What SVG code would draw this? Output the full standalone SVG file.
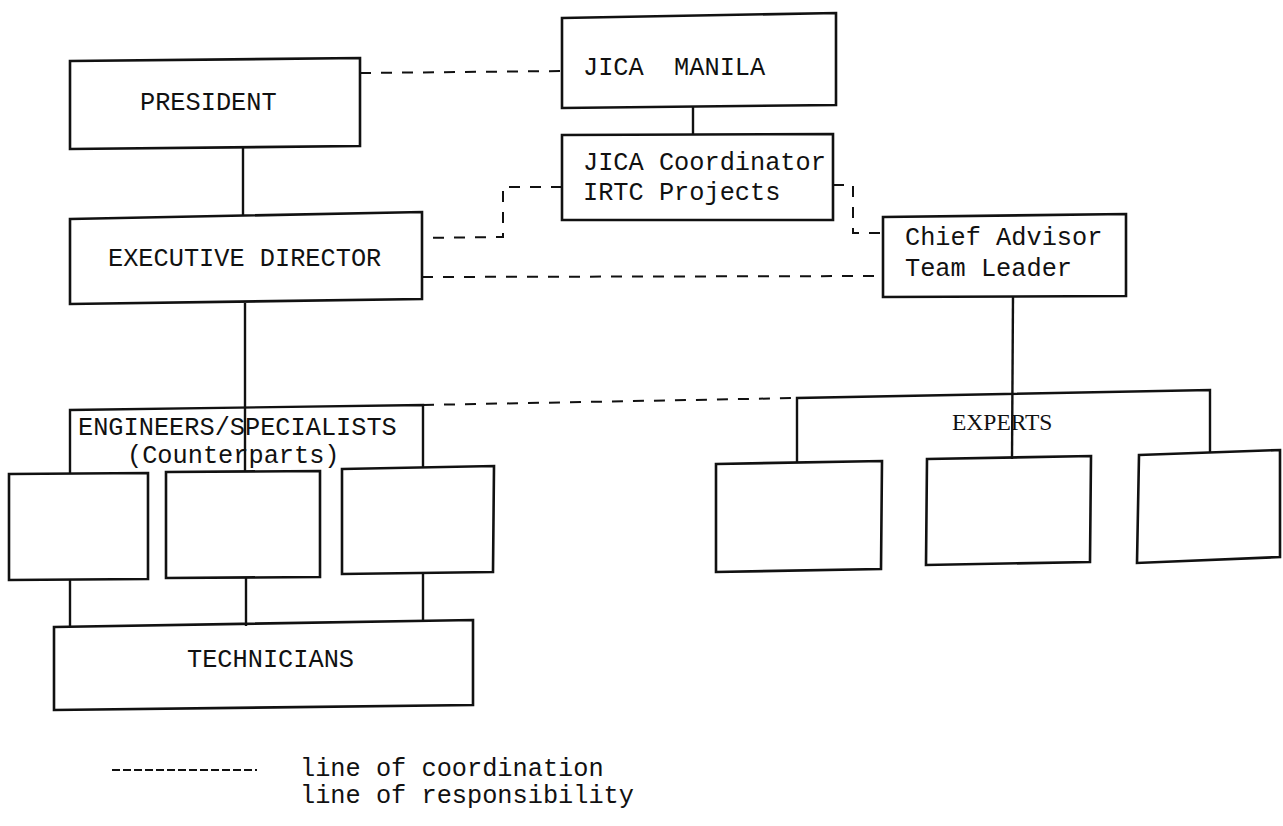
<svg xmlns="http://www.w3.org/2000/svg" width="1283" height="826" viewBox="0 0 1283 826">
<style>
.box{fill:none;stroke:#111;stroke-width:2.6;stroke-linejoin:miter}
.ln{fill:none;stroke:#111;stroke-width:2.4}
.dash{fill:none;stroke:#111;stroke-width:2;stroke-dasharray:11 10}
.t{font-family:"Liberation Mono","Courier New",monospace;font-size:25.3px;fill:#111}
.ts{font-family:"Liberation Serif","Times New Roman",serif;font-size:23.5px;fill:#111}
</style>
<rect width="1283" height="826" fill="#fff"/>
<g id="connectors">
<path class="dash" d="M360,73 L562,71"/>
<path class="ln" d="M693,107 L693,134"/>
<path class="ln" d="M243,148 L243,216"/>
<path class="dash" d="M562,187 L503,187 L503,237 L422,238"/>
<path class="dash" d="M833,185 L853,185 L853,233 L883,233"/>
<path class="dash" d="M422,277 L883,276"/>
<path class="ln" d="M1013,296 L1012,459"/>
<path class="ln" d="M797,462 L797,398 L1210,390 L1210,453"/>
<path class="dash" d="M423,405 L797,398"/>
<path class="ln" d="M245,303 L245,471"/>
<path class="ln" d="M70,473 L70,410 L423,405 L423,467"/>
<path class="ln" d="M70,580 L70,627"/>
<path class="ln" d="M246,578 L246,626"/>
<path class="ln" d="M423,573 L423,622"/>
</g>
<g id="president">
<path class="box" d="M70,61 L360,58 L360,146 L70,149 Z"/>
<text class="t" x="140" y="110">PRESIDENT</text>
</g>
<g id="jica_manila">
<path class="box" d="M562,18 L836,13 L836,105 L562,108 Z"/>
<text class="t" x="583" y="75" xml:space="preserve">JICA  MANILA</text>
</g>
<g id="jica_coordinator">
<path class="box" d="M562,135 L833,134 L833,220 L562,220 Z"/>
<text class="t" x="583" y="170">JICA Coordinator</text>
<text class="t" x="583" y="200">IRTC Projects</text>
</g>
<g id="executive_director">
<path class="box" d="M70,219 L422,212 L422,299 L70,304 Z"/>
<text class="t" x="108" y="266">EXECUTIVE DIRECTOR</text>
</g>
<g id="chief_advisor">
<path class="box" d="M883,217 L1126,214 L1126,296 L883,297 Z"/>
<text class="t" x="905" y="245">Chief Advisor</text>
<text class="t" x="905" y="276">Team Leader</text>
</g>
<g id="engineers">
<text class="t" x="78" y="435">ENGINEERS/SPECIALISTS</text>
<text class="t" x="127" y="463">(Counterparts)</text>
</g>
<g id="eng_box1"><path class="box" d="M9,474 L148,473 L148,579 L9,580 Z"/></g>
<g id="eng_box2"><path class="box" d="M166,472 L320,471 L320,577 L166,578 Z"/></g>
<g id="eng_box3"><path class="box" d="M342,469 L494,466 L493,572 L342,574 Z"/></g>
<g id="technicians">
<path class="box" d="M54,627 L473,620 L473,705 L54,710 Z"/>
<text class="t" x="187" y="667">TECHNICIANS</text>
</g>
<g id="experts">
<text class="ts" x="952" y="430">EXPERTS</text>
</g>
<g id="exp_box1"><path class="box" d="M716,464 L882,461 L881,569 L716,572 Z"/></g>
<g id="exp_box2"><path class="box" d="M927,459 L1091,456 L1090,562 L926,565 Z"/></g>
<g id="exp_box3"><path class="box" d="M1139,455 L1280,450 L1280,557 L1137,563 Z"/></g>
<g id="legend">
<path class="dash" d="M112,770 L257,770" style="stroke-dasharray:8 3"/>
<text class="t" x="300" y="776">line of coordination</text>
<text class="t" x="300" y="803">line of responsibility</text>
</g>
</svg>
